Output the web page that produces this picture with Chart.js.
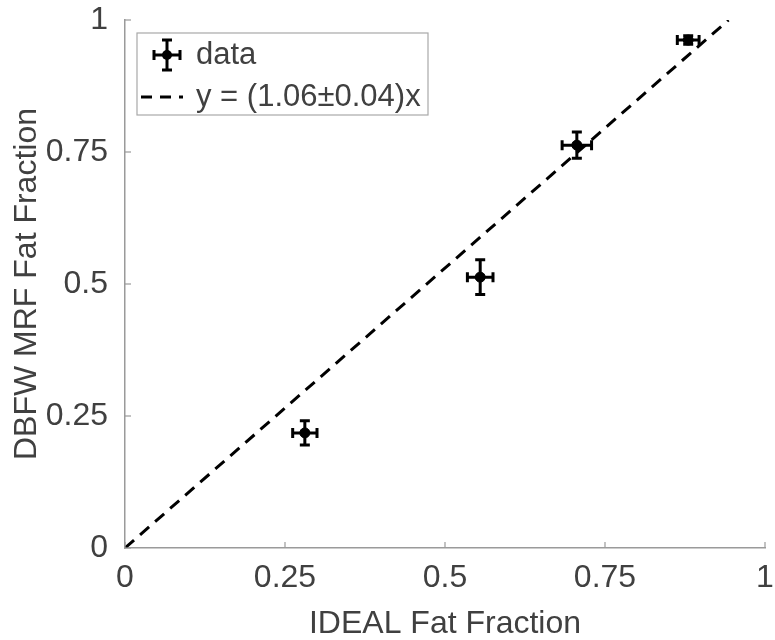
<!DOCTYPE html>
<html>
<head>
<meta charset="utf-8">
<script src="https://cdn.jsdelivr.net/npm/chart.js@4/dist/chart.umd.min.js"></script>
<style>
  html, body { margin: 0; padding: 0; background: #fff; }
  #wrap { width: 775px; height: 640px; }
</style>
</head>
<body>
<div id="wrap"><canvas id="fatChart"></canvas></div>
<script>
// data
const idealFF = [0.281, 0.555, 0.706, 0.880];
const mrfFF = [0.218, 0.513, 0.763, 0.962];
const idealErr = [0.019, 0.020, 0.023, 0.017];
const mrfErr = [0.023, 0.033, 0.025, 0.008];
const fitLineX = [0, 0.943];
const fitLineY = [0, 1];
const tickValues = [0, 0.25, 0.5, 0.75, 1];
const legendLabels = ["data", "y = (1.06\u00b10.04)x"];

const FONT = "'Liberation Sans', Arial, sans-serif";
const TEXT = "#404040";
const AXIS = "#9a9a9a";

// error bars + inward ticks + legend box
const extras = {
  id: "extras",
  afterDatasetsDraw(chart) {
    const c = chart.ctx;
    const xs = chart.scales.x, ys = chart.scales.y;
    const area = chart.chartArea;

    // inward ticks
    c.save();
    c.strokeStyle = AXIS;
    c.lineWidth = 1.2;
    tickValues.forEach(v => {
      const px = xs.getPixelForValue(v);
      c.beginPath(); c.moveTo(px, area.bottom); c.lineTo(px, area.bottom - 6); c.stroke();
      const py = ys.getPixelForValue(v);
      c.beginPath(); c.moveTo(area.left, py); c.lineTo(area.left + 6, py); c.stroke();
    });
    c.restore();

    // error bars
    c.save();
    c.strokeStyle = "#000";
    c.lineWidth = 3;
    const cap = 5;
    idealFF.forEach((x, i) => {
      const px = xs.getPixelForValue(x);
      const py = ys.getPixelForValue(mrfFF[i]);
      const x0 = xs.getPixelForValue(x - idealErr[i]);
      const x1 = xs.getPixelForValue(x + idealErr[i]);
      const y0 = ys.getPixelForValue(mrfFF[i] - mrfErr[i]);
      const y1 = ys.getPixelForValue(mrfFF[i] + mrfErr[i]);
      c.beginPath();
      c.moveTo(x0, py); c.lineTo(x1, py);
      c.moveTo(x0, py - cap); c.lineTo(x0, py + cap);
      c.moveTo(x1, py - cap); c.lineTo(x1, py + cap);
      c.moveTo(px, y0); c.lineTo(px, y1);
      c.moveTo(px - cap, y0); c.lineTo(px + cap, y0);
      c.moveTo(px - cap, y1); c.lineTo(px + cap, y1);
      c.stroke();
    });
    c.restore();

    // legend
    c.save();
    const lx = 137, ly = 33, lw = 291, lh = 82;
    c.fillStyle = "#fff";
    c.fillRect(lx, ly, lw, lh);
    c.strokeStyle = "#a8a8a8";
    c.lineWidth = 1.2;
    c.strokeRect(lx, ly, lw, lh);

    // data marker
    const mx = 167, my = 55;
    c.strokeStyle = "#000";
    c.fillStyle = "#000";
    c.lineWidth = 3;
    c.beginPath();
    c.moveTo(mx - 13, my); c.lineTo(mx + 13, my);
    c.moveTo(mx - 13, my - 5); c.lineTo(mx - 13, my + 5);
    c.moveTo(mx + 13, my - 5); c.lineTo(mx + 13, my + 5);
    c.moveTo(mx, my - 15); c.lineTo(mx, my + 15);
    c.moveTo(mx - 5, my - 15); c.lineTo(mx + 5, my - 15);
    c.moveTo(mx - 5, my + 15); c.lineTo(mx + 5, my + 15);
    c.stroke();
    c.beginPath(); c.arc(mx, my, 5, 0, Math.PI * 2); c.fill();

    // dashed sample
    c.setLineDash([11, 8]);
    c.beginPath(); c.moveTo(141, 97); c.lineTo(183, 97); c.stroke();
    c.setLineDash([]);

    c.fillStyle = TEXT;
    c.font = "31px " + FONT;
    c.textBaseline = "middle";
    c.fillText(legendLabels[0], 196, 55);
    c.fillText(legendLabels[1], 196, 97);
    c.restore();
  }
};

const noOverhang = s => {
  s.paddingLeft = 0; s.paddingRight = 0; s.paddingTop = 0; s.paddingBottom = 0;
};

new Chart(document.getElementById("fatChart"), {
  type: "scatter",
  data: {
    datasets: [
      {
        label: legendLabels[1],
        type: "line",
        data: fitLineX.map((x, i) => ({ x: x, y: fitLineY[i] })),
        borderColor: "#000",
        borderWidth: 3,
        borderDash: [12, 8],
        pointRadius: 0,
        fill: false
      },
      {
        label: legendLabels[0],
        data: idealFF.map((x, i) => ({ x: x, y: mrfFF[i] })),
        backgroundColor: "#000",
        borderColor: "#000",
        pointRadius: 5,
        pointHoverRadius: 5
      }
    ]
  },
  options: {
    responsive: true,
    maintainAspectRatio: false,
    animation: false,
    events: [],
    layout: { padding: { left: 0, right: 10, top: 20, bottom: 0 } },
    plugins: { legend: { display: false }, tooltip: { enabled: false } },
    scales: {
      x: {
        type: "linear", min: 0, max: 1,
        afterFit: s => { s.height = 92; noOverhang(s); },
        afterBuildTicks: s => { s.ticks = tickValues.map(v => ({ value: v })); },
        grid: { display: false, drawTicks: false },
        border: { display: true, color: AXIS, width: 1.5 },
        ticks: { color: TEXT, font: { family: FONT, size: 32, lineHeight: 1 }, padding: 14, maxRotation: 0, callback: v => String(v) },
        title: { display: true, text: "IDEAL Fat Fraction", color: TEXT, font: { family: FONT, size: 32, lineHeight: 1 }, padding: { top: 0, bottom: 0 } }
      },
      y: {
        type: "linear", min: 0, max: 1,
        afterFit: s => { s.width = 125; noOverhang(s); },
        afterBuildTicks: s => { s.ticks = tickValues.map(v => ({ value: v })); },
        grid: { display: false, drawTicks: false },
        border: { display: true, color: AXIS, width: 1.5 },
        ticks: { color: TEXT, font: { family: FONT, size: 32, lineHeight: 1 }, padding: 17, callback: v => String(v) },
        title: { display: true, text: "DBFW MRF Fat Fraction", color: TEXT, font: { family: FONT, size: 32, lineHeight: 1 }, padding: { top: 11, bottom: 0 } }
      }
    }
  },
  plugins: [extras]
});
</script>
</body>
</html>
